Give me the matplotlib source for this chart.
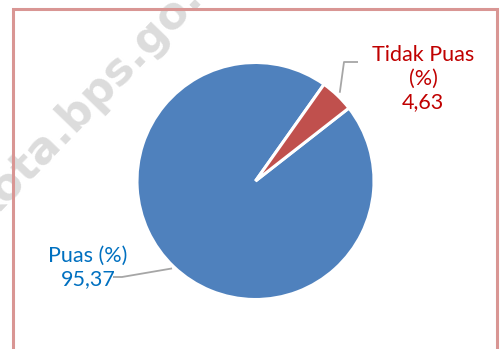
import numpy as np
import matplotlib
matplotlib.use("Agg")
import matplotlib.pyplot as plt
from matplotlib.patches import Rectangle

# Data
categories = ["Puas (%)", "Tidak Puas (%)"]
values = [95.37, 4.63]
value_labels = ["95,37", "4,63"]
colors = ["#4f81bd", "#c0504d"]
text_colors = ["#0070c0", "#c00000"]

W, H = 500, 349
fig = plt.figure(figsize=(W / 100, H / 100), dpi=100)
ax = fig.add_axes([0, 0, 1, 1])
ax.set_xlim(0, W)
ax.set_ylim(0, H)
ax.axis("off")

# watermark
ax.text(111, H - 94, "kota.bps.go.id", rotation=46, rotation_mode="anchor",
        ha="center", va="baseline", fontsize=32, fontweight="bold",
        color="#dcdcdc", family="DejaVu Sans", zorder=0)

# frame
ax.add_patch(Rectangle((13, -20), 484, H - 9 + 20, fill=False,
                       edgecolor="#d99694", linewidth=2.2, zorder=1,
                       clip_on=False))

cx, cy, R = 255.5, 168.0, 118.5
wedges, _ = ax.pie(values, colors=colors, startangle=38, counterclock=False,
                   center=(cx, cy), radius=R,
                   wedgeprops=dict(edgecolor="white", linewidth=2.2))
ax.set_xlim(0, W)
ax.set_ylim(0, H)

font = "Lato"
fs = 15.5

# leader lines from wedge mid-angles
def edge_point(w, scale=1.02):
    ang = np.deg2rad((w.theta1 + w.theta2) / 2)
    return cx + R * scale * np.cos(ang), cy + R * scale * np.sin(ang)

# Tidak Puas
x0, y0 = edge_point(wedges[1], 1.03)
ax.plot([x0, 344, 358], [y0, H - 62, H - 62], color="#a6a6a6", lw=1.3,
        solid_capstyle="butt", zorder=3)
ax.text(423, H - 108, "Tidak Puas\n(%)\n" + value_labels[1], ha="center",
        va="baseline", fontsize=fs, color=text_colors[1], family=font,
        linespacing=1.22)

# Puas
x0, y0 = edge_point(wedges[0], 1.02)
ax.plot([x0, 122, 113], [y0, H - 277, H - 277], color="#a6a6a6", lw=1.3,
        solid_capstyle="butt", zorder=3)
ax.text(88, H - 285, "Puas (%)\n" + value_labels[0], ha="center",
        va="baseline", fontsize=fs, color=text_colors[0], family=font,
        linespacing=1.22)

fig.savefig("out.png", dpi=100)
